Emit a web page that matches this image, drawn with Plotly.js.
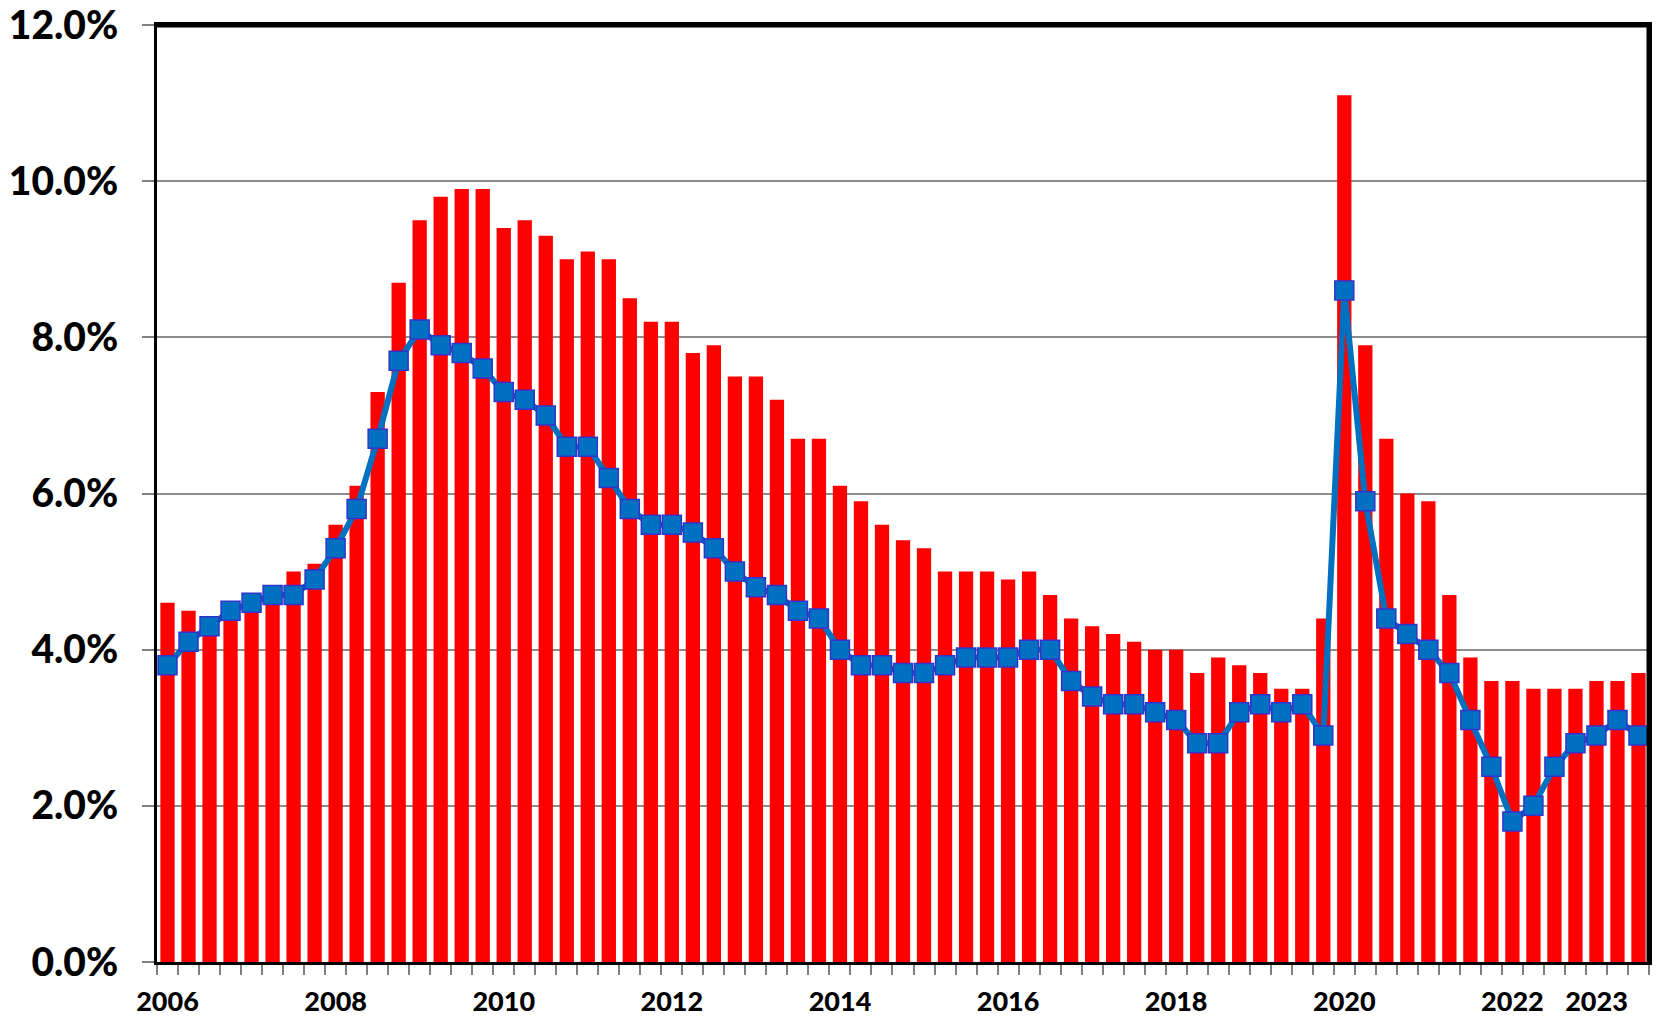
<!DOCTYPE html>
<html>
<head>
<meta charset="utf-8">
<script src="https://cdn.plot.ly/plotly-3.0.1.min.js"></script>
<style>
  html, body { margin: 0; padding: 0; background: #ffffff; }
  #chart { width: 1658px; height: 1016px; }
</style>
</head>
<body>
<div id="chart"></div>
<script>
// Quarters 2006Q1 .. 2023Q3
const startYear = 2006;
const nQuarters = 71;
const quarters = [];
for (let i = 0; i < nQuarters; i++) {
  quarters.push((startYear + Math.floor(i / 4)) + "Q" + (i % 4 + 1));
}

// Red bars (%)
const barValues = [
  4.6, 4.5, 4.4, 4.5, 4.6, 4.8, 5.0, 5.1,
  5.6, 6.1, 7.3, 8.7, 9.5, 9.8, 9.9, 9.9,
  9.4, 9.5, 9.3, 9.0, 9.1, 9.0, 8.5, 8.2,
  8.2, 7.8, 7.9, 7.5, 7.5, 7.2, 6.7, 6.7,
  6.1, 5.9, 5.6, 5.4, 5.3, 5.0, 5.0, 5.0,
  4.9, 5.0, 4.7, 4.4, 4.3, 4.2, 4.1, 4.0,
  4.0, 3.7, 3.9, 3.8, 3.7, 3.5, 3.5, 4.4,
  11.1, 7.9, 6.7, 6.0, 5.9, 4.7, 3.9, 3.6,
  3.6, 3.5, 3.5, 3.5, 3.6, 3.6, 3.7
];

// Blue line with square markers (%)
const lineValues = [
  3.8, 4.1, 4.3, 4.5, 4.6, 4.7, 4.7, 4.9,
  5.3, 5.8, 6.7, 7.7, 8.1, 7.9, 7.8, 7.6,
  7.3, 7.2, 7.0, 6.6, 6.6, 6.2, 5.8, 5.6,
  5.6, 5.5, 5.3, 5.0, 4.8, 4.7, 4.5, 4.4,
  4.0, 3.8, 3.8, 3.7, 3.7, 3.8, 3.9, 3.9,
  3.9, 4.0, 4.0, 3.6, 3.4, 3.3, 3.3, 3.2,
  3.1, 2.8, 2.8, 3.2, 3.3, 3.2, 3.3, 2.9,
  8.6, 5.9, 4.4, 4.2, 4.0, 3.7, 3.1, 2.5,
  1.8, 2.0, 2.5, 2.8, 2.9, 3.1, 2.9
];

// X tick labels (shown at Q1 of these years)
const labeledYears = [2006, 2008, 2010, 2012, 2014, 2016, 2018, 2020, 2022, 2023];
const tickText = quarters.map(q => {
  const y = parseInt(q.slice(0, 4), 10);
  return (q.endsWith("Q1") && labeledYears.includes(y)) ? String(y) : "";
});

// Y ticks
const yTicks = [0, 2, 4, 6, 8, 10, 12];

const font = "Lato, 'Open Sans', 'DejaVu Sans', sans-serif";

const traces = [
  {
    type: "bar",
    x: quarters,
    y: barValues,
    marker: { color: "#FF0000", line: { width: 0 } },
    hoverinfo: "x+y"
  },
  {
    type: "scatter",
    mode: "lines+markers",
    x: quarters,
    y: lineValues,
    line: { color: "#0070C0", width: 6 },
    marker: { symbol: "square", size: 19, color: "#0070C0",
              line: { color: "#3333CC", width: 1.5 } },
    hoverinfo: "x+y"
  }
];

const layout = {
  width: 1658,
  height: 1016,
  margin: { l: 157, r: 9, t: 25, b: 54 },
  paper_bgcolor: "#ffffff",
  plot_bgcolor: "#ffffff",
  showlegend: false,
  bargap: 0.32,
  font: { family: font, color: "#000000" },
  xaxis: {
    type: "category",
    tickmode: "array",
    tickvals: quarters,
    ticktext: tickText,
    tickson: "boundaries",
    ticks: "outside",
    ticklen: 10,
    tickwidth: 2,
    tickcolor: "#808080",
    tickangle: 0,
    ticklabelstandoff: 14,
    tickfont: { family: font, size: 27, color: "#000000", weight: 900 },
    showline: true,
    linecolor: "#000000",
    linewidth: 3,
    mirror: true,
    showgrid: false,
    zeroline: false,
    range: [-0.5, nQuarters - 0.5],
    fixedrange: true
  },
  yaxis: {
    range: [0, 12],
    tickmode: "array",
    tickvals: yTicks,
    ticktext: yTicks.map(v => v.toFixed(1) + "%"),
    ticks: "outside",
    ticklen: 12,
    tickwidth: 2,
    tickcolor: "#808080",
    ticklabelstandoff: 16,
    tickfont: { family: font, size: 39, color: "#000000", weight: 900 },
    showline: true,
    linecolor: "#000000",
    linewidth: 3,
    mirror: true,
    showgrid: true,
    gridcolor: "#8C8C8C",
    gridwidth: 2,
    zeroline: false,
    fixedrange: true
  },
  shapes: [
    { type: "line", xref: "paper", yref: "paper", x0: 0, x1: 1, y0: 1, y1: 1,
      line: { color: "#000000", width: 5 } },
    { type: "line", xref: "paper", yref: "paper", x0: 1, x1: 1, y0: 0, y1: 1,
      line: { color: "#000000", width: 5 } }
  ]
};

Plotly.newPlot("chart", traces, layout, { displayModeBar: false, staticPlot: true });
</script>
</body>
</html>
